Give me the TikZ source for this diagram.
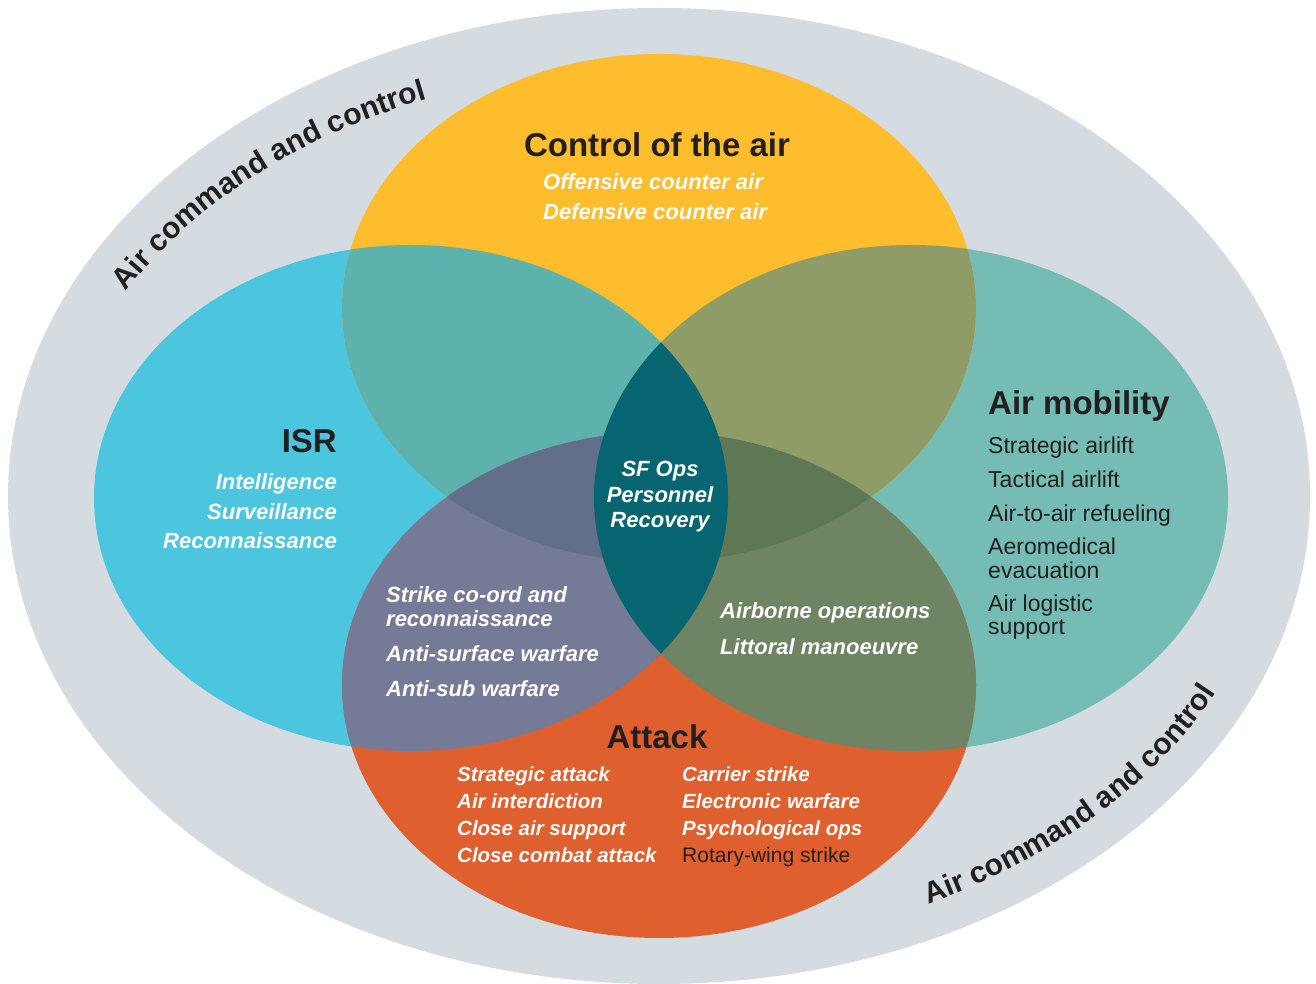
\documentclass[tikz,border=0pt]{standalone}
\usepackage{fontspec}
\setmainfont{Liberation Sans}
\usetikzlibrary{decorations.text}
\definecolor{ringgray}{HTML}{D5DCE1}
\definecolor{cyanL}{HTML}{4CC6DE}
\definecolor{tealR}{HTML}{75BCB5}
\definecolor{yellowT}{HTML}{FDBD2C}
\definecolor{orangeB}{HTML}{DF5F2F}
\definecolor{cLT}{HTML}{5DB2AD}
\definecolor{cRT}{HTML}{909C68}
\definecolor{cLB}{HTML}{757B96}
\definecolor{cRB}{HTML}{6E8462}
\definecolor{cLTB}{HTML}{636E8A}
\definecolor{cRTB}{HTML}{5E7856}
\definecolor{cLR}{HTML}{066570}
\definecolor{txtdark}{HTML}{231F20}
\newcommand\acfont{\fontsize{30}{31}\selectfont\bfseries}
\tikzset{
  ttl/.style={font=\fontsize{33}{36}\selectfont\bfseries, text=txtdark, inner sep=0pt},
  wit/.style={font=\fontsize{22}{24}\selectfont\bfseries\itshape, text=white, inner sep=0pt},
  lst/.style={font=\fontsize{23}{24}\selectfont, text=txtdark, inner sep=0pt},
  atk/.style={font=\fontsize{20.5}{22}\selectfont\bfseries\itshape, text=white, inner sep=0pt},
  atkd/.style={font=\fontsize{21}{22}\selectfont, text=txtdark, inner sep=0pt},
}
\begin{document}
\begin{tikzpicture}[x=1pt,y=1pt]
\useasboundingbox (0,0) rectangle (1316,984);
% outer ring
\fill[ringgray] (659,488) ellipse [x radius=651, y radius=488];
% base ellipses
\fill[cyanL] (411,486) ellipse [x radius=317, y radius=253];
\fill[tealR] (911,486) ellipse [x radius=317, y radius=253];
\fill[yellowT] (659,676) ellipse [x radius=317, y radius=254];
\fill[orangeB] (659,299) ellipse [x radius=317, y radius=253];
% pairwise overlaps
\begin{scope}
  \clip (411,486) ellipse [x radius=317, y radius=253];
  \fill[cLT] (659,676) ellipse [x radius=317, y radius=254];
  \fill[cLB] (659,299) ellipse [x radius=317, y radius=253];
\end{scope}
\begin{scope}
  \clip (911,486) ellipse [x radius=317, y radius=253];
  \fill[cRT] (659,676) ellipse [x radius=317, y radius=254];
  \fill[cRB] (659,299) ellipse [x radius=317, y radius=253];
\end{scope}
% triple overlaps
\begin{scope}
  \clip (411,486) ellipse [x radius=317, y radius=253];
  \clip (659,676) ellipse [x radius=317, y radius=254];
  \fill[cLTB] (659,299) ellipse [x radius=317, y radius=253];
\end{scope}
\begin{scope}
  \clip (911,486) ellipse [x radius=317, y radius=253];
  \clip (659,676) ellipse [x radius=317, y radius=254];
  \fill[cRTB] (659,299) ellipse [x radius=317, y radius=253];
\end{scope}
% centre lens
\begin{scope}
  \clip (411,486) ellipse [x radius=317, y radius=253];
  \fill[cLR] (911,486) ellipse [x radius=317, y radius=253];
\end{scope}
% ring texts
\path[decorate, decoration={text along path, text color=txtdark,
   text={|\acfont|Air command and control}}]
  (126.0,692.0) arc[start angle=151.5, end angle=95, x radius=607, y radius=432];
\path[decorate, decoration={text along path, text color=txtdark,
   text={|\acfont|Air command and control}}]
  (928.0,80.0) arc[start angle=-64.3, end angle=-15, x radius=621, y radius=460];
% Control of the air
\node[ttl, anchor=base] (cta) at (657,827) {Control of the air};
\node[wit, anchor=base west] (oca) at (543,794) {Offensive counter air};
\node[wit, anchor=base west] (dca) at (543,764) {Defensive counter air};
% ISR
\node[ttl, anchor=base east] (isr) at (337,531) {ISR};
\node[wit, anchor=base east] (int) at (337,494) {Intelligence};
\node[wit, anchor=base east] (sur) at (337,464) {Surveillance};
\node[wit, anchor=base east] (rec) at (337,435) {Reconnaissance};
% Air mobility
\node[ttl, anchor=base west] (amb) at (988,569) {Air mobility};
\node[lst, anchor=base west] (sal) at (988,530) {Strategic airlift};
\node[lst, anchor=base west] (tal) at (988,496) {Tactical airlift};
\node[lst, anchor=base west] (aar) at (988,462) {Air-to-air refueling};
\node[lst, anchor=base west] (aem) at (988,429) {Aeromedical};
\node[lst, anchor=base west] (evc) at (988,405) {evacuation};
\node[lst, anchor=base west] (alg) at (988,372) {Air logistic};
\node[lst, anchor=base west] (sup) at (988,349) {support};
% centre
\node[wit, anchor=base] (sfo) at (660,507) {SF Ops};
\node[wit, anchor=base] (per) at (660,481) {Personnel};
\node[wit, anchor=base] (rcv) at (660,456) {Recovery};
% ISR / Attack overlap
\node[wit, anchor=base west] (sca) at (386,381) {Strike co-ord and};
\node[wit, anchor=base west] (scb) at (386,357) {reconnaissance};
\node[wit, anchor=base west] (asf) at (386,322) {Anti-surface warfare};
\node[wit, anchor=base west] (asb) at (386,287) {Anti-sub warfare};
% Mobility / Attack overlap
\node[wit, anchor=base west] (abo) at (720,365) {Airborne operations};
\node[wit, anchor=base west] (ltm) at (720,329) {Littoral manoeuvre};
% Attack
\node[ttl, anchor=base] (atk) at (657,235) {Attack};
\node[atk, anchor=base west] (a1) at (457,202) {Strategic attack};
\node[atk, anchor=base west] (a2) at (457,175) {Air interdiction};
\node[atk, anchor=base west] (a3) at (457,148) {Close air support};
\node[atk, anchor=base west] (a4) at (457,121) {Close combat attack};
\node[atk, anchor=base west] (b1) at (682,202) {Carrier strike};
\node[atk, anchor=base west] (b2) at (682,175) {Electronic warfare};
\node[atk, anchor=base west] (b3) at (682,148) {Psychological ops};
\node[atkd, anchor=base west] (b4) at (682,121) {Rotary-wing strike};
\end{tikzpicture}
\end{document}
